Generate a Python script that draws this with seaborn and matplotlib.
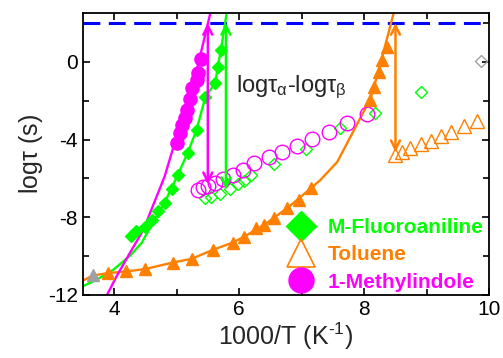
import matplotlib
matplotlib.use("Agg")
import matplotlib.pyplot as plt
from matplotlib.lines import Line2D
from matplotlib.ticker import MultipleLocator
import seaborn as sns

GREEN = "#00FF00"
ORANGE = "#FF8000"
MAGENTA = "#FF00FF"
GRAY = "#A0A0A0"
BLUE = "#0000FF"

# M-Fluoroaniline, alpha (filled) and beta (open)
mfa_x = [4.28, 4.36, 4.49, 4.60, 4.70, 4.81, 4.92, 5.02, 5.18, 5.32, 5.46, 5.62, 5.66, 5.71]
mfa_y = [-8.96, -8.73, -8.48, -8.13, -7.70, -7.24, -6.55, -5.82, -4.67, -3.50, -1.82, -1.07, -0.25, 0.61]
mfa_fit_x = [3.50, 3.72, 3.99, 4.25, 4.44, 4.60, 4.81, 5.02, 5.18, 5.32, 5.46, 5.62, 5.66, 5.71, 5.80]
mfa_fit_y = [-11.55, -11.22, -10.70, -10.00, -9.33, -8.40, -7.24, -5.82, -4.67, -3.50, -1.82, -1.07, -0.25, 0.61, 2.50]
mfa_beta_x = [5.45, 5.55, 5.69, 5.85, 5.99, 6.08, 6.19, 6.56, 7.07, 7.62, 8.18, 8.90]
mfa_beta_y = [-7.00, -6.95, -6.80, -6.55, -6.30, -6.15, -5.80, -5.25, -4.50, -3.40, -2.61, -1.53]

# Toluene
tol_x = [3.91, 4.19, 4.49, 4.94, 5.24, 5.58, 5.90, 6.08, 6.27, 6.40, 6.56, 6.77, 6.96, 7.15,
         8.10, 8.15, 8.23, 8.29, 8.36]
tol_y = [-10.87, -10.79, -10.67, -10.33, -10.14, -9.68, -9.30, -9.00, -8.56, -8.39, -8.04, -7.53,
         -7.10, -6.50, -1.96, -1.31, -0.50, 0.10, 0.75]
tol_fit_x = [3.48, 3.66, 3.91, 4.19, 4.49, 4.94, 5.24, 5.58, 5.90, 6.08, 6.40, 6.77, 7.15, 7.30,
             7.57, 7.92, 8.10, 8.20, 8.30, 8.47]
tol_fit_y = [-11.30, -11.00, -10.87, -10.79, -10.67, -10.33, -10.14, -9.68, -9.30, -9.00, -8.39,
             -7.53, -6.50, -6.08, -5.15, -3.00, -1.90, -0.80, 0.40, 2.50]
tol_beta_x = [8.50, 8.60, 8.74, 8.90, 9.06, 9.22, 9.39, 9.60, 9.80]
tol_beta_y = [-4.79, -4.62, -4.45, -4.22, -4.05, -3.81, -3.59, -3.30, -3.02]

# 1-Methylindole
mi_x = [5.00, 5.05, 5.09, 5.13, 5.17, 5.22, 5.25, 5.32, 5.35, 5.39]
mi_y = [-4.19, -3.67, -3.25, -2.90, -2.47, -1.92, -1.36, -0.93, -0.55, 0.17]
mi_fit_x = [3.88, 4.04, 4.25, 4.47, 4.64, 4.81, 4.94, 5.10, 5.25, 5.37, 5.54]
mi_fit_y = [-12.05, -11.05, -9.86, -8.65, -7.27, -5.90, -4.50, -3.00, -1.40, 0.20, 2.50]
mi_beta_x = [5.34, 5.42, 5.50, 5.61, 5.75, 5.90, 6.06, 6.24, 6.48, 6.69, 6.93, 7.17, 7.44, 7.73, 8.05]
mi_beta_y = [-6.59, -6.45, -6.38, -6.24, -6.04, -5.82, -5.55, -5.22, -4.90, -4.63, -4.33, -3.95,
             -3.60, -3.17, -2.70]

# gray extra points
gray_tri = ([3.66], [-10.96])
gray_dia = ([9.86], [0.05])

# arrows: x, bottom
arrows = [(5.50, -6.30, MAGENTA), (5.79, -6.55, GREEN), (8.50, -4.65, ORANGE)]
tau_limit = 2.0

sns.set_style("ticks")
plt.rcParams["font.family"] = ["Liberation Sans", "DejaVu Sans"]
plt.rcParams["mathtext.fontset"] = "custom"
plt.rcParams["mathtext.rm"] = "Liberation Sans"
plt.rcParams["mathtext.it"] = "Liberation Sans"
plt.rcParams["axes.unicode_minus"] = False

fig = plt.figure(figsize=(5.03, 3.58), dpi=100)
ax = fig.add_axes([0.1644, 0.176, 0.8084, 0.787])


def line(x, y, color):
    sns.lineplot(x=x, y=y, ax=ax, color=color, lw=1.7, sort=False, estimator=None, zorder=2)


def pts(x, y, color, marker, ms, filled=True, mew=1.0):
    sns.lineplot(x=x, y=y, ax=ax, color=color, linestyle="", marker=marker, markersize=ms,
                 markerfacecolor=color if filled else "none", markeredgecolor=color,
                 markeredgewidth=mew, sort=False, estimator=None, zorder=3)


line(mfa_fit_x, mfa_fit_y, GREEN)
line(tol_fit_x, tol_fit_y, ORANGE)
line(mi_fit_x, mi_fit_y, MAGENTA)

pts(mfa_beta_x, mfa_beta_y, GREEN, "D", 6.0, filled=False)
pts(mi_beta_x, mi_beta_y, MAGENTA, "o", 10.5, filled=False)
pts(tol_beta_x, tol_beta_y, ORANGE, "^", 10.5, filled=False)
pts(*gray_dia, GRAY, "D", 6.0, filled=False)

pts(mfa_x, mfa_y, GREEN, "D", 6.2)
pts(tol_x, tol_y, ORANGE, "^", 9.0)
pts(mi_x, mi_y, MAGENTA, "o", 9.5)
pts(*gray_tri, GRAY, "^", 9.0)

ax.axhline(tau_limit, color=BLUE, lw=2.2, dashes=(5.5, 2.8), zorder=1)

for ax_x, y_bot, c in arrows:
    ax.annotate("", xy=(ax_x, y_bot), xytext=(ax_x, tau_limit),
                arrowprops=dict(arrowstyle="<->", color=c, lw=1.8, mutation_scale=16,
                                shrinkA=0, shrinkB=0), zorder=4)

ax.text(5.95, -1.3, r"log$\tau_{\alpha}$-log$\tau_{\beta}$", fontsize=17, va="center")

ax.set_xlim(3.5, 10)
ax.set_ylim(-12, 2.5)
ax.xaxis.set_major_locator(MultipleLocator(2))
ax.xaxis.set_minor_locator(MultipleLocator(1))
ax.set_yticks([-12, -8, -4, 0])
ax.yaxis.set_minor_locator(MultipleLocator(2))
ax.tick_params(which="both", direction="in", top=True, right=True, width=1.2, labelsize=15,
               colors="black")
ax.tick_params(which="major", length=5)
ax.tick_params(which="minor", length=4)
for s in ax.spines.values():
    s.set_linewidth(1.3)
    s.set_color("black")

ax.set_xlabel(r"1000/T (K$^{\text{-1}}$)", fontsize=18, labelpad=1)
ax.set_ylabel(r"log$\tau$ (s)", fontsize=18, labelpad=2)

handles = [
    Line2D([], [], color=GREEN, marker="D", ms=15, linestyle=""),
    Line2D([], [], color=ORANGE, marker="^", ms=20, markerfacecolor="none", mew=1.2, linestyle=""),
    Line2D([], [], color=MAGENTA, marker="o", ms=18, linestyle=""),
]
ax.legend(handles, ["M-Fluoroaniline", "Toluene", "1-Methylindole"],
          loc="lower right", bbox_to_anchor=(1.012, -0.025), frameon=False,
          labelcolor=[GREEN, ORANGE, MAGENTA], prop={"size": 15, "weight": "bold"},
          handlelength=1.6, handletextpad=0.5, labelspacing=0.4, borderaxespad=0.1)

fig.savefig("out.png", dpi=100)
